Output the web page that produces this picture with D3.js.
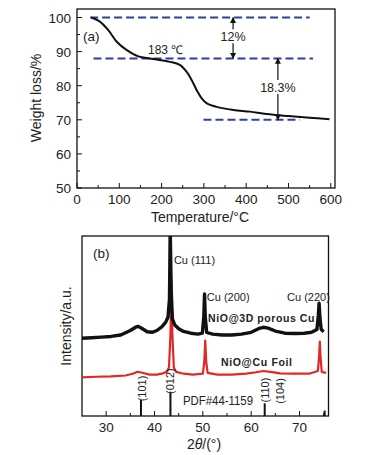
<!DOCTYPE html>
<html>
<head>
<meta charset="utf-8">
<script src="https://cdn.jsdelivr.net/npm/d3@7"></script>
<style>
  body { margin: 0; background: #fff; }
  svg { display: block; font-family: "Liberation Sans", Arial, sans-serif; }
  text { fill: #222; }
</style>
</head>
<body>
<svg id="chart" width="369" height="455"></svg>
<script>
// ---- panel (a): TGA ----
const tgaTemp = [34, 54, 74, 94, 117, 145, 172, 188, 220, 243, 259, 271, 283, 295, 307, 330, 370, 409, 448, 500, 550, 597];
const tgaWeight = [100, 98.8, 96.3, 92.9, 90.5, 88.6, 88, 87.7, 87, 86.1, 84.1, 81.7, 78.7, 76.3, 74.8, 73.8, 72.9, 72.4, 71.7, 71.1, 70.6, 70.2];
const tgaXTicks = [0, 100, 200, 300, 400, 500, 600];
const tgaYTicks = [50, 60, 70, 80, 90, 100];
// dashed guide levels: [weight, fromTemp, toTemp]
const guideLevels = [[100, 31, 550], [88, 39, 558], [70, 299, 527]];
// step arrows: [temp, top weight, bottom weight, label, label weight]
const stepArrows = [[369, 100, 88, "12%", 94.5], [475, 88, 70, "18.3%", 79.6]];

// ---- panel (b): XRD ----
const porousTheta = [25, 27, 29, 31, 33, 35, 36, 36.6, 37.5, 38.5, 39.5, 40.5, 41.5, 42.3, 42.8, 43.1, 43.25, 43.45, 43.7, 44.2, 45, 46, 47.5, 49, 49.9, 50.2, 50.35, 50.5, 50.8, 52, 54, 56, 58, 60, 61.5, 62.5, 63.5, 65, 67, 69, 71, 72.5, 73.6, 73.9, 74.05, 74.25, 74.5, 75];
const porousInt = [43.2, 43.5, 43.8, 44.2, 45, 47.5, 49.2, 49.8, 48.5, 46.8, 46.5, 47.5, 49.5, 52, 55, 65, 104, 70, 54, 50.5, 48.5, 47, 46, 45.5, 46, 55, 67.8, 55, 46.5, 45.5, 45, 45, 45.5, 46.5, 48.5, 49.3, 48.8, 47.2, 46, 45.8, 46, 46.5, 48, 56, 62.6, 54, 48, 46.8];
const foilTheta = [25, 28, 31, 34, 35.5, 36.5, 37.5, 39, 40.5, 41.5, 42.5, 43, 43.3, 43.5, 43.7, 44, 44.5, 46, 48, 50, 50.3, 50.5, 50.7, 51, 53, 56, 59, 61, 62.5, 64, 66, 69, 72, 73.8, 74.05, 74.2, 74.35, 74.6, 75.5];
const foilInt = [21.5, 21.8, 22, 22.5, 23.5, 24.6, 24, 23, 23, 23.5, 24.5, 27, 45, 75.6, 45, 27, 24.5, 23.5, 23, 23.5, 30, 41.9, 30, 24, 23, 23, 23.5, 24.3, 25, 24.5, 23.7, 23.5, 23.5, 25, 33, 41.3, 33, 24.5, 24];
const pdfTheta = [37.2, 43.3, 62.8, 75.2];
const pdfInt = [8.9, 13.5, 7, 3];
const hklLabels = ["(101)", "(012)", "(110)", "(104)"];
const hklTheta = [37.5, 43.3, 62.8, 66];
const hklPos = [15.3, 19.4, 14.4, 13.9];
const cuPeaks = [["Cu (111)", 43.4, 84.5], ["Cu (200)", 50.2, 63.9], ["Cu (220)", 66.8, 63.9]];
const xrdXTicks = [30, 40, 50, 60, 70];

const svg = d3.select("#chart");

// ================= panel (a) =================
const ax = d3.scaleLinear().domain([0, 610]).range([77, 335]);
const ay = d3.scaleLinear().domain([50, 102.5]).range([188, 9]);

const ga = svg.append("g");

ga.append("rect")
  .attr("x", 77).attr("y", 9)
  .attr("width", 335 - 77).attr("height", 188 - 9)
  .attr("fill", "none").attr("stroke", "#111").attr("stroke-width", 1.3);

// ticks inside
const axMinor = d3.range(50, 610, 100);
ga.selectAll(".axt").data(tgaXTicks).join("line")
  .attr("x1", d => ax(d)).attr("x2", d => ax(d))
  .attr("y1", 188).attr("y2", 183).attr("stroke", "#111");
ga.selectAll(".axm").data(axMinor).join("line")
  .attr("x1", d => ax(d)).attr("x2", d => ax(d))
  .attr("y1", 188).attr("y2", 185).attr("stroke", "#111");
ga.selectAll(".axl").data(tgaXTicks).join("text")
  .attr("x", d => ax(d)).attr("y", 204)
  .attr("text-anchor", "middle").attr("font-size", 13.5)
  .text(d => d);

const ayMinor = d3.range(55, 101, 10);
ga.selectAll(".ayt").data(tgaYTicks).join("line")
  .attr("x1", 77).attr("x2", 82)
  .attr("y1", d => ay(d)).attr("y2", d => ay(d)).attr("stroke", "#111");
ga.selectAll(".aym").data(ayMinor).join("line")
  .attr("x1", 77).attr("x2", 80)
  .attr("y1", d => ay(d)).attr("y2", d => ay(d)).attr("stroke", "#111");
ga.selectAll(".ayl").data(tgaYTicks).join("text")
  .attr("x", 71).attr("y", d => ay(d) + 5)
  .attr("text-anchor", "end").attr("font-size", 13.5)
  .text(d => d);

ga.append("text")
  .attr("transform", "translate(41,98) rotate(-90)")
  .attr("text-anchor", "middle").attr("font-size", 14)
  .text("Weight loss/%");
ga.append("text")
  .attr("x", 200).attr("y", 222)
  .attr("text-anchor", "middle").attr("font-size", 14)
  .text("Temperature/\u00B0C");

// dashed guides
ga.selectAll(".guide").data(guideLevels).join("line")
  .attr("x1", d => ax(d[1])).attr("x2", d => ax(d[2]))
  .attr("y1", d => ay(d[0])).attr("y2", d => ay(d[0]))
  .attr("stroke", "#2f3f9e").attr("stroke-width", 2)
  .attr("stroke-dasharray", "8,4");

// tga curve
const tga = tgaTemp.map((t, i) => [t, tgaWeight[i]]);
ga.append("path")
  .datum(tga)
  .attr("fill", "none").attr("stroke", "#111").attr("stroke-width", 2)
  .attr("d", d3.line().x(d => ax(d[0])).y(d => ay(d[1])).curve(d3.curveCatmullRom));

// arrows
const defs = svg.append("defs");
defs.append("marker")
  .attr("id", "ah").attr("viewBox", "0 0 10 10")
  .attr("refX", 9).attr("refY", 5)
  .attr("markerWidth", 5).attr("markerHeight", 6)
  .attr("orient", "auto")
  .append("path").attr("d", "M0,0 L10,5 L0,10 z").attr("fill", "#111");

stepArrows.forEach(s => {
  const x = ax(s[0]);
  const yl = ay(s[4]);
  ga.append("line")
    .attr("x1", x).attr("x2", x).attr("y1", yl - 7).attr("y2", ay(s[1]))
    .attr("stroke", "#111").attr("stroke-width", 1.2).attr("marker-end", "url(#ah)");
  ga.append("line")
    .attr("x1", x).attr("x2", x).attr("y1", yl + 7).attr("y2", ay(s[2]))
    .attr("stroke", "#111").attr("stroke-width", 1.2).attr("marker-end", "url(#ah)");
  ga.append("text")
    .attr("x", x).attr("y", yl + 4.5)
    .attr("text-anchor", "middle").attr("font-size", 12.5)
    .text(s[3]);
});

ga.append("text").attr("x", 83).attr("y", 41).attr("font-size", 13.5).text("(a)");
ga.append("text").attr("x", 148).attr("y", 54).attr("font-size", 12).text("183 \u2103");

// ================= panel (b) =================
const bx = d3.scaleLinear().domain([25, 76]).range([82, 328.5]);
const by = d3.scaleLinear().domain([0, 100]).range([416, 236]);

const gb = svg.append("g");

defs.append("clipPath").attr("id", "clipb")
  .append("rect").attr("x", 82).attr("y", 236).attr("width", 328.5 - 82).attr("height", 180);

gb.append("rect")
  .attr("x", 82).attr("y", 236)
  .attr("width", 328.5 - 82).attr("height", 180)
  .attr("fill", "none").attr("stroke", "#111").attr("stroke-width", 1.3);

const bxMinor = d3.range(35, 76, 10);
gb.selectAll(".bxt").data(xrdXTicks).join("line")
  .attr("x1", d => bx(d)).attr("x2", d => bx(d))
  .attr("y1", 416).attr("y2", 411).attr("stroke", "#111");
gb.selectAll(".bxm").data(bxMinor).join("line")
  .attr("x1", d => bx(d)).attr("x2", d => bx(d))
  .attr("y1", 416).attr("y2", 413).attr("stroke", "#111");
gb.selectAll(".bxl").data(xrdXTicks).join("text")
  .attr("x", d => bx(d)).attr("y", 432)
  .attr("text-anchor", "middle").attr("font-size", 13.5)
  .text(d => d);

gb.append("text")
  .attr("transform", "translate(71,326) rotate(-90)")
  .attr("text-anchor", "middle").attr("font-size", 14)
  .text("Intensity/a.u.");
const xl = gb.append("text")
  .attr("x", 204).attr("y", 449)
  .attr("text-anchor", "middle").attr("font-size", 14);
xl.append("tspan").text("2");
xl.append("tspan").attr("font-style", "italic").text("\u03B8");
xl.append("tspan").text("/(\u00B0)");

const line = d3.line().x(d => bx(d[0])).y(d => by(d[1]));
const plot = gb.append("g").attr("clip-path", "url(#clipb)");

plot.append("path")
  .datum(foilTheta.map((t, i) => [t, foilInt[i]]))
  .attr("fill", "none").attr("stroke", "#e32626").attr("stroke-width", 2.2)
  .attr("stroke-linejoin", "round")
  .attr("d", line);
plot.append("path")
  .datum(porousTheta.map((t, i) => [t, porousInt[i]]))
  .attr("fill", "none").attr("stroke", "#111").attr("stroke-width", 3.4)
  .attr("stroke-linejoin", "round")
  .attr("d", line);

// PDF reference bars
gb.selectAll(".pdf").data(pdfTheta).join("line")
  .attr("x1", d => bx(d)).attr("x2", d => bx(d))
  .attr("y1", by(0)).attr("y2", (d, i) => by(pdfInt[i]))
  .attr("stroke", "#111").attr("stroke-width", 2);

gb.selectAll(".hkl").data(hklLabels).join("text")
  .attr("transform", (d, i) => `translate(${bx(hklTheta[i]) + 4},${by(hklPos[i])}) rotate(-90)`)
  .attr("text-anchor", "middle").attr("font-size", 11)
  .text(d => d);

gb.append("text").attr("x", 183).attr("y", 405).attr("font-size", 12.5)
  .attr("textLength", 70).attr("lengthAdjust", "spacingAndGlyphs")
  .text("PDF#44-1159");

gb.selectAll(".cu").data(cuPeaks).join("text")
  .attr("x", d => bx(d[1]) + 3).attr("y", d => by(d[2]))
  .attr("font-size", 11)
  .text(d => d[0]);

gb.append("text").attr("x", 208).attr("y", 322)
  .attr("font-size", 10.5).attr("font-weight", "bold").attr("letter-spacing", 0.6)
  .attr("textLength", 107).attr("lengthAdjust", "spacing")
  .text("NiO@3D porous Cu");
gb.append("text").attr("x", 221).attr("y", 366)
  .attr("font-size", 10.5).attr("font-weight", "bold")
  .attr("textLength", 71).attr("lengthAdjust", "spacing")
  .text("NiO@Cu Foil");

gb.append("text").attr("x", 93).attr("y", 258).attr("font-size", 13.5).text("(b)");
</script>
</body>
</html>
